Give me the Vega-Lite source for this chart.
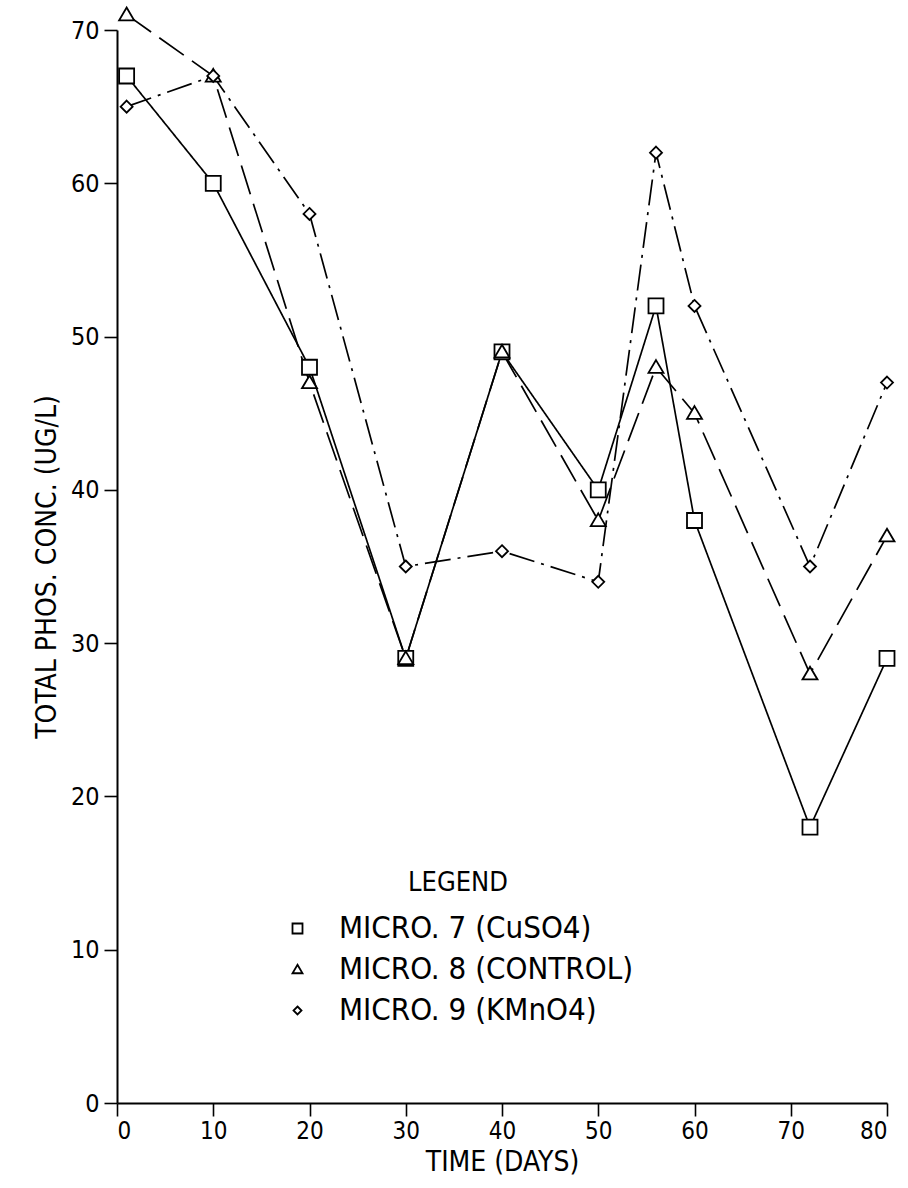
{
  "$schema": "https://vega.github.io/schema/vega-lite/v6.json",
  "autosize": "none",
  "width": 770,
  "height": 1073,
  "padding": {"left": 117, "top": 30, "right": 21, "bottom": 85},
  "background": "white",
  "config": {
    "view": {"stroke": null},
    "font": "DejaVu Sans Condensed, Liberation Sans Narrow, Roboto, sans-serif",
    "axis": {"domainColor": "black", "tickColor": "black", "labelColor": "black", "titleColor": "black", "grid": false, "domainWidth": 2, "tickWidth": 1.6, "labelFont": "DejaVu Sans Condensed, Liberation Sans Narrow, Roboto, sans-serif", "titleFont": "DejaVu Sans Condensed, Liberation Sans Narrow, Roboto, sans-serif", "labelFontWeight": "normal", "titleFontWeight": "normal"},
    "legend": {"labelFont": "DejaVu Sans Condensed, Liberation Sans Narrow, Roboto, sans-serif", "titleFont": "DejaVu Sans Condensed, Liberation Sans Narrow, Roboto, sans-serif"}
  },
  "data": {"values": [
    {"day": 1, "conc": 67, "series": "MICRO. 7 (CuSO4)", "style": "solid"},
    {"day": 10, "conc": 60, "series": "MICRO. 7 (CuSO4)", "style": "solid"},
    {"day": 20, "conc": 48, "series": "MICRO. 7 (CuSO4)", "style": "solid"},
    {"day": 30, "conc": 29, "series": "MICRO. 7 (CuSO4)", "style": "solid"},
    {"day": 40, "conc": 49, "series": "MICRO. 7 (CuSO4)", "style": "solid"},
    {"day": 50, "conc": 40, "series": "MICRO. 7 (CuSO4)", "style": "solid"},
    {"day": 56, "conc": 52, "series": "MICRO. 7 (CuSO4)", "style": "solid"},
    {"day": 60, "conc": 38, "series": "MICRO. 7 (CuSO4)", "style": "solid"},
    {"day": 72, "conc": 18, "series": "MICRO. 7 (CuSO4)", "style": "solid"},
    {"day": 80, "conc": 29, "series": "MICRO. 7 (CuSO4)", "style": "solid"},
    {"day": 1, "conc": 71, "series": "MICRO. 8 (CONTROL)", "style": "long dash"},
    {"day": 10, "conc": 67, "series": "MICRO. 8 (CONTROL)", "style": "long dash"},
    {"day": 20, "conc": 47, "series": "MICRO. 8 (CONTROL)", "style": "long dash"},
    {"day": 30, "conc": 29, "series": "MICRO. 8 (CONTROL)", "style": "long dash"},
    {"day": 40, "conc": 49, "series": "MICRO. 8 (CONTROL)", "style": "long dash"},
    {"day": 50, "conc": 38, "series": "MICRO. 8 (CONTROL)", "style": "long dash"},
    {"day": 56, "conc": 48, "series": "MICRO. 8 (CONTROL)", "style": "long dash"},
    {"day": 60, "conc": 45, "series": "MICRO. 8 (CONTROL)", "style": "long dash"},
    {"day": 72, "conc": 28, "series": "MICRO. 8 (CONTROL)", "style": "long dash"},
    {"day": 80, "conc": 37, "series": "MICRO. 8 (CONTROL)", "style": "long dash"},
    {"day": 1, "conc": 65, "series": "MICRO. 9 (KMnO4)", "style": "dash dot"},
    {"day": 10, "conc": 67, "series": "MICRO. 9 (KMnO4)", "style": "dash dot"},
    {"day": 20, "conc": 58, "series": "MICRO. 9 (KMnO4)", "style": "dash dot"},
    {"day": 30, "conc": 35, "series": "MICRO. 9 (KMnO4)", "style": "dash dot"},
    {"day": 40, "conc": 36, "series": "MICRO. 9 (KMnO4)", "style": "dash dot"},
    {"day": 50, "conc": 34, "series": "MICRO. 9 (KMnO4)", "style": "dash dot"},
    {"day": 56, "conc": 62, "series": "MICRO. 9 (KMnO4)", "style": "dash dot"},
    {"day": 60, "conc": 52, "series": "MICRO. 9 (KMnO4)", "style": "dash dot"},
    {"day": 72, "conc": 35, "series": "MICRO. 9 (KMnO4)", "style": "dash dot"},
    {"day": 80, "conc": 47, "series": "MICRO. 9 (KMnO4)", "style": "dash dot"}
  ]},
  "encoding": {
    "x": {"field": "day", "type": "quantitative", "scale": {"domain": [0, 80], "nice": false},
      "axis": {"title": "TIME (DAYS)", "values": [0,10,20,30,40,50,60,70,80], "tickSize": 13, "labelFontSize": 24, "titleFontSize": 28, "labelPadding": 3, "titlePadding": 5}},
    "y": {"field": "conc", "type": "quantitative", "scale": {"domain": [0, 70], "nice": false},
      "axis": {"title": "TOTAL PHOS. CONC. (UG/L)", "values": [0,10,20,30,40,50,60,70], "tickSize": 13, "labelFontSize": 25, "titleFontSize": 28, "labelPadding": 5, "titlePadding": 9}}
  },
  "layer": [
    {
      "mark": {"type": "line", "color": "black", "strokeWidth": 1.7, "clip": false},
      "encoding": {
        "strokeDash": {
          "field": "style", "type": "nominal",
          "scale": {"domain": ["solid", "long dash", "dash dot"], "range": [[1, 0], [30, 10], [26, 7, 3, 7]]},
          "legend": null
        }
      }
    },
    {
      "mark": {"type": "point", "filled": true, "fill": "white", "stroke": "black", "strokeWidth": 1.8, "opacity": 1, "clip": false, "size": 225},
      "encoding": {
        "shape": {
          "field": "series", "type": "nominal",
          "scale": {"domain": ["MICRO. 7 (CuSO4)", "MICRO. 8 (CONTROL)", "MICRO. 9 (KMnO4)"], "range": ["M-1,-1H1V1H-1Z", "M0,-0.95L1,0.75L-1,0.75Z", "M0,-0.8L0.8,0L0,0.8L-0.8,0Z"]},
          "legend": {
            "title": "LEGEND", "orient": "none", "legendX": 165, "legendY": 840,
            "titleFontSize": 27, "labelFontSize": 31, "labelLimit": 500, "titleAnchor": "middle", "titleFontWeight": "normal",
            "titleColor": "black", "labelColor": "black", "symbolSize": 100, "symbolStrokeWidth": 1.8,
            "rowPadding": 9, "labelOffset": 26, "titlePadding": 16,
            "encode": {"symbols": {"update": {"stroke": {"value": "black"}, "fill": {"value": "white"}, "strokeWidth": {"value": 1.8}, "opacity": {"value": 1}}}}
          }
        }
      }
    }
  ]
}
